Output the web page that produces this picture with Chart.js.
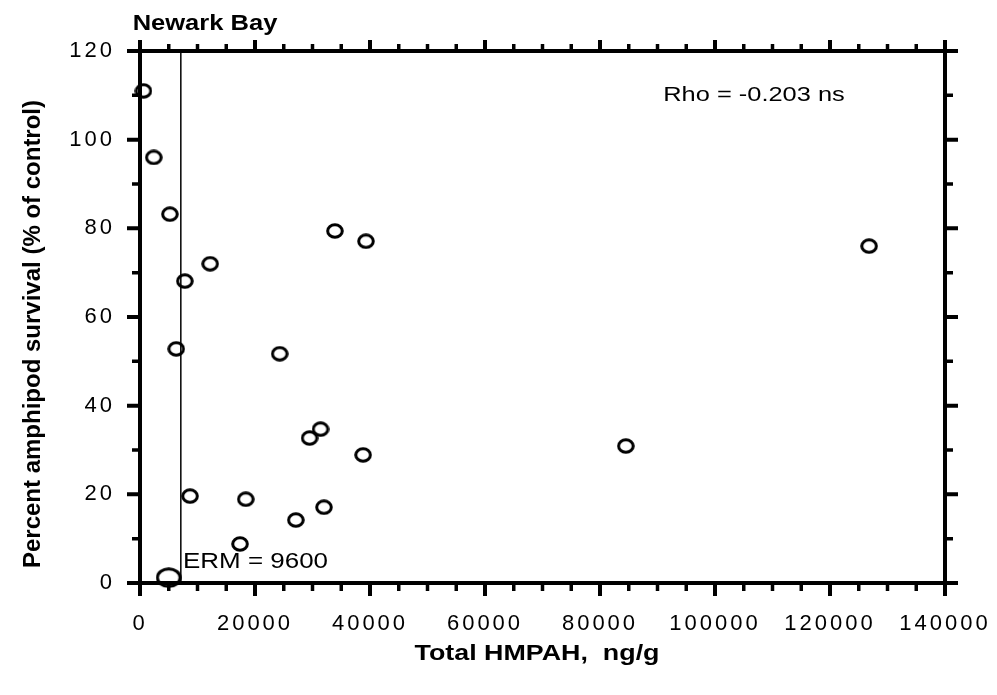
<!DOCTYPE html>
<html>
<head>
<meta charset="utf-8">
<script src="https://cdn.jsdelivr.net/npm/chart.js@4.4.1/dist/chart.umd.min.js"></script>
<style>
  html, body { margin: 0; padding: 0; background: #fff; }
  #wrap { width: 997px; height: 695px; }
</style>
</head>
<body>
<div id="wrap"><canvas id="chart" width="997" height="695"></canvas></div>
<script>
// Total HMPAH (ng/g) vs. percent amphipod survival, Newark Bay
const hmpah = [600, 2400, 5200, 12200, 7800, 6300, 24300, 33900, 39300, 126800,
               84500, 31400, 29500, 38800, 8700, 18400, 32000, 27100, 17400];
const survival = [111, 96, 83.2, 72, 68.1, 52.8, 51.7, 79.4, 77.1, 76,
                  30.9, 34.7, 32.7, 28.9, 19.6, 18.9, 17.1, 14.2, 8.8];
// the larger marker near the origin (overlapping stations)
const overlapX = [5000];
const overlapY = [1.2];
// ERM guideline as drawn in the figure
const ermX = 7100;
const xTicks = [0, 20000, 40000, 60000, 80000, 100000, 120000, 140000];
const yTicks = [0, 20, 40, 60, 80, 100, 120];

const FONT = "'Liberation Sans', Arial, Helvetica, sans-serif";

function ellipseMarker(w, h, lw) {
  const c = document.createElement('canvas');
  c.width = w; c.height = h;
  const g = c.getContext('2d');
  g.lineWidth = lw;
  g.strokeStyle = '#000';
  g.beginPath();
  g.ellipse(w / 2, h / 2, w / 2 - lw / 2 - 0.2, h / 2 - lw / 2 - 0.2, 0, 0, Math.PI * 2);
  g.stroke();
  return c;
}
const smallMarker = ellipseMarker(18, 16, 3);
const bigMarker = ellipseMarker(26, 21, 3);

function stretchText(ctx, text, x, y, font, sx, align) {
  ctx.save();
  ctx.translate(x, y);
  ctx.scale(sx, 1);
  ctx.font = font;
  ctx.fillStyle = '#000';
  ctx.textAlign = align || 'center';
  ctx.textBaseline = 'alphabetic';
  ctx.fillText(text, 0, 0);
  ctx.restore();
}

// frame, inner/outer ticks and all free text
const framePlugin = {
  id: 'frame',
  beforeDraw(chart) {
    chart.ctx.letterSpacing = '3px';
  },
  afterDraw(chart) {
    const ctx = chart.ctx;
    const xs = chart.scales.x, ys = chart.scales.y;
    const L = xs.getPixelForValue(0), R = xs.getPixelForValue(140000);
    const T = ys.getPixelForValue(120), B = ys.getPixelForValue(0);
    ctx.save();
    ctx.letterSpacing = '0px';
    ctx.strokeStyle = '#000';
    ctx.lineCap = 'butt';
    ctx.lineWidth = 4;
    ctx.strokeRect(L, T, R - L, B - T);

    // x ticks every 5000, major every 20000
    for (let v = 0; v <= 140000; v += 5000) {
      const px = xs.getPixelForValue(v);
      const major = v % 20000 === 0;
      ctx.lineWidth = major ? 4 : 3.5;
      ctx.beginPath();
      ctx.moveTo(px, B); ctx.lineTo(px, B + (major ? 13 : 8));
      ctx.moveTo(px, T); ctx.lineTo(px, T - (major ? 11 : 7));
      ctx.stroke();
    }
    // y ticks every 10, major every 20
    for (let v = 0; v <= 120; v += 10) {
      const py = ys.getPixelForValue(v);
      const major = v % 20 === 0;
      ctx.lineWidth = major ? 4 : 3.5;
      ctx.beginPath();
      ctx.moveTo(L, py); ctx.lineTo(L - (major ? 13 : 8), py);
      ctx.moveTo(R, py); ctx.lineTo(R + (major ? 13 : 8), py);
      ctx.stroke();
    }

    stretchText(ctx, 'Newark Bay', 205, 30, 'bold 22px ' + FONT, 1.16);
    stretchText(ctx, 'Rho = -0.203 ns', 754, 101, '21px ' + FONT, 1.21);
    stretchText(ctx, 'ERM = 9600', 183, 568, '22px ' + FONT, 1.18, 'left');
    stretchText(ctx, 'Total HMPAH,  ng/g', 537, 660, 'bold 22px ' + FONT, 1.22);

    ctx.translate(40, 334);
    ctx.rotate(-Math.PI / 2);
    ctx.font = 'bold 24px ' + FONT;
    ctx.fillStyle = '#000';
    ctx.textAlign = 'center';
    ctx.textBaseline = 'alphabetic';
    ctx.fillText('Percent amphipod survival (% of control)', 0, 0);
    ctx.restore();
  }
};

new Chart(document.getElementById('chart'), {
  type: 'scatter',
  data: {
    datasets: [
      {
        label: 'ERM',
        type: 'line',
        data: [{ x: ermX, y: 0 }, { x: ermX, y: 120 }],
        borderColor: '#000',
        borderWidth: 1.5,
        pointRadius: 0,
        showLine: true,
        fill: false,
      },
      {
        label: 'Stations',
        data: hmpah.map((x, i) => ({ x, y: survival[i] })),
        pointStyle: smallMarker,
      },
      {
        label: 'Overlap',
        data: overlapX.map((x, i) => ({ x, y: overlapY[i] })),
        pointStyle: bigMarker,
      }
    ]
  },
  options: {
    responsive: false,
    animation: false,
    clip: false,
    layout: { padding: { top: 51, right: 52, left: 0, bottom: 0 } },
    plugins: { legend: { display: false }, tooltip: { enabled: false } },
    scales: {
      x: {
        type: 'linear',
        min: 0, max: 140000,
        afterFit: s => { s.height = 112; s.paddingLeft = 0; s.paddingRight = 0; },
        afterBuildTicks: s => { s.ticks = xTicks.map(v => ({ value: v })); },
        grid: { display: false, drawTicks: false },
        border: { display: false },
        ticks: {
          autoSkip: false, maxRotation: 0, padding: 28,
          color: '#000', font: { family: FONT, size: 22 },
          callback: v => String(v)
        }
      },
      y: {
        type: 'linear',
        min: 0, max: 120,
        afterFit: s => { s.width = 140; s.paddingTop = 0; s.paddingBottom = 0; },
        afterBuildTicks: s => { s.ticks = yTicks.map(v => ({ value: v })); },
        grid: { display: false, drawTicks: false },
        border: { display: false },
        ticks: {
          autoSkip: false, padding: 25,
          color: '#000', font: { family: FONT, size: 22 },
          callback: v => String(v)
        }
      }
    }
  },
  plugins: [framePlugin]
});
</script>
</body>
</html>
